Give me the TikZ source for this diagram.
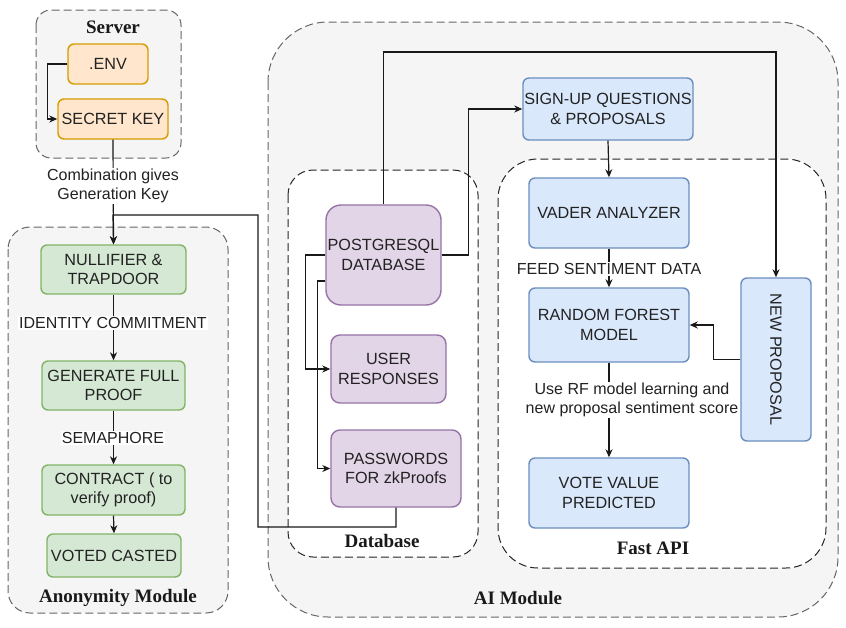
\documentclass[tikz,border=0pt]{standalone}
\usepackage{fontspec}
\setmainfont{Liberation Sans}
\newfontfamily\titlefont{Liberation Serif}
\usetikzlibrary{arrows.meta}
\definecolor{contfill}{HTML}{F5F5F5}
\definecolor{contline}{HTML}{666666}
\definecolor{orfill}{HTML}{FFE6CC}
\definecolor{orline}{HTML}{D79B00}
\definecolor{grfill}{HTML}{D5E8D4}
\definecolor{grline}{HTML}{82B366}
\definecolor{pufill}{HTML}{E1D5E7}
\definecolor{puline}{HTML}{9673A6}
\definecolor{blfill}{HTML}{DAE8FC}
\definecolor{blline}{HTML}{6C8EBF}
\definecolor{txt}{HTML}{222222}
\tikzset{
  cont/.style={draw=contline, fill=contfill, line width=1pt, dash pattern=on 8pt off 4pt},
  subcont/.style={draw=black!85, fill=white, line width=1pt, dash pattern=on 8pt off 4pt},
  ttl/.style={font=\titlefont\bfseries\fontsize{19}{22}\selectfont, text=black!90},
  box/.style={rectangle, rounded corners=6pt, line width=1.4pt, align=center, text=txt,
     font=\fontsize{16.2}{19.5}\selectfont, inner sep=0pt},
  orbox/.style={box, draw=orline, fill=orfill},
  grbox/.style={box, draw=grline, fill=grfill},
  pubox/.style={box, draw=puline, fill=pufill},
  blbox/.style={box, draw=blline, fill=blfill},
  arr/.style={-{Stealth[length=8pt,width=7pt,inset=2.5pt]}, line width=1.2pt, draw=black!90},
  lbl/.style={fill=white, align=center, text=txt, font=\fontsize{16}{18.5}\selectfont, inner sep=1pt}
}
\begin{document}
\begin{tikzpicture}[x=1pt,y=-1pt]
\useasboundingbox (0,0) rectangle (846,627);
% containers
\draw[cont, rounded corners=15pt] (36,10) rectangle (181,158);
\draw[cont, rounded corners=22pt] (8,227) rectangle (228,613);
\draw[cont, rounded corners=60pt] (268,22) rectangle (838,617);
\draw[subcont, rounded corners=25pt] (288,170) rectangle (478,557);
\draw[subcont, rounded corners=40pt] (498,159) rectangle (826,568);
% titles
\node[ttl] (tserver) at (113,27) {Server};
\node[ttl] (tanon) at (118,598) {Anonymity Module};
\node[ttl] (tai) at (518,598) {AI Module};
\node[ttl] (tdb) at (382,541) {Database};
\node[ttl] (tfast) at (653,548) {Fast API};
% server
\node[orbox, minimum width=80pt, minimum height=40pt] (env) at (108,64) {.ENV};
\node[orbox, minimum width=110pt, minimum height=40pt] (sk) at (113,119) {SECRET KEY};
% anonymity
\node[grbox, minimum width=145pt, minimum height=49pt] (nul) at (113.5,269.5) {NULLIFIER \&\\TRAPDOOR};
\node[grbox, minimum width=143pt, minimum height=49pt] (gen) at (113.5,385.5) {GENERATE FULL\\PROOF};
\node[grbox, minimum width=143pt, minimum height=50pt] (con) at (113.5,490) {CONTRACT ( to\\verify proof)};
\node[grbox, minimum width=134pt, minimum height=43pt] (vote) at (114,555.5) {VOTED CASTED};
% database
\node[pubox, rounded corners=15pt, minimum width=115pt, minimum height=100pt] (pg) at (383.5,255) {POSTGRESQL\\DATABASE};
\node[pubox, rounded corners=9pt, minimum width=115pt, minimum height=68pt] (ur) at (388.5,369) {USER\\RESPONSES};
\node[pubox, rounded corners=9pt, minimum width=130pt, minimum height=77pt] (pw) at (396,468.5) {PASSWORDS\\FOR zkProofs};
% AI
\node[blbox, minimum width=170pt, minimum height=62pt] (su) at (608,109) {SIGN-UP QUESTIONS\\\& PROPOSALS};
\node[blbox, minimum width=160pt, minimum height=70pt] (vader) at (609,213) {VADER ANALYZER};
\node[blbox, minimum width=160pt, minimum height=74pt] (rf) at (609,325) {RANDOM FOREST\\MODEL};
\node[blbox, minimum width=160pt, minimum height=70pt] (vv) at (609,493) {VOTE VALUE\\PREDICTED};
\node[blbox, minimum width=70pt, minimum height=163pt] (np) at (776,359.5) {\rotatebox{-90}{NEW PROPOSAL}};
% connectors: server
\draw[arr] (env.west) -- ++(-20,0) |- (sk.west);
\draw[arr] (sk.south) -- (nul.north);
\node[lbl] (lcomb) at (113,186) {Combination gives\\Generation Key};
\draw[arr] (pw.south) |- (258,527) |- (113,215) -- (nul.north);
% anonymity chain
\draw[arr] (nul.south) -- (gen.north);
\node[lbl] (lid) at (113,323) {IDENTITY COMMITMENT};
\draw[arr] (gen.south) -- (con.north);
\node[lbl] (lsem) at (113,438) {SEMAPHORE};
\draw[arr] (con.south) -- (vote.north);
% database connectors
\coordinate (ctop) at (776,52);
\draw[arr] (pg.north) |- (ctop) -- (np.north);
\draw[arr] (pg.east) -- ++(27,0) |- (su.west);
\draw[arr] (pg.west) -- ++(-20,0) |- (ur.west);
\draw[arr] ([yshift=-26pt]pg.west) -- ++(-8,0) |- (pw.west);
% AI connectors
\draw[arr] (su.south) -- (vader.north);
\draw[arr] (vader.south) -- (rf.north);
\node[lbl] (lfeed) at (609,269) {FEED SENTIMENT DATA};
\draw[arr] (rf.south) -- (vv.north);
\node[lbl] (luse) at (632,400) {Use RF model learning and\\new proposal sentiment score};
\draw[arr] (np.west) -- ++(-27,0) |- (rf.east);
\end{tikzpicture}
\end{document}
